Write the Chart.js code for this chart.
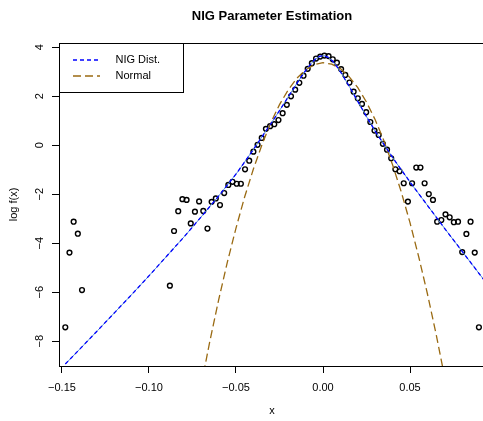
<!DOCTYPE html>
<html>
<head>
<meta charset="utf-8">
<script src="https://cdn.jsdelivr.net/npm/chart.js@4.4.1/dist/chart.umd.min.js"></script>
<style>
html, body { margin: 0; padding: 0; overflow: hidden; background: #fff; }
canvas { display: block; }
</style>
</head>
<body>
<canvas id="nigChart" width="500" height="421"></canvas>
<script>
// log of the empirical density, one value per non-empty histogram bin
const binX = [-0.1481, -0.1457, -0.1433, -0.1409, -0.1385,
    -0.0880, -0.0856, -0.0832, -0.0808, -0.0784, -0.0760, -0.0736, -0.0712, -0.0688, -0.0664,
    -0.0640, -0.0616, -0.0592, -0.0568, -0.0544, -0.0520, -0.0496, -0.0472, -0.0448, -0.0424,
    -0.0400, -0.0376, -0.0352, -0.0328, -0.0304, -0.0280, -0.0256, -0.0232, -0.0208, -0.0184,
    -0.0160, -0.0136, -0.0112, -0.0088, -0.0064, -0.0040, -0.0016, 0.0008, 0.0032, 0.0056,
    0.0080, 0.0104, 0.0128, 0.0152, 0.0176, 0.0200, 0.0224, 0.0248, 0.0272, 0.0296,
    0.0320, 0.0344, 0.0368, 0.0392, 0.0416, 0.0440, 0.0464, 0.0488, 0.0512, 0.0536,
    0.0560, 0.0584, 0.0608, 0.0632, 0.0656, 0.0680, 0.0704, 0.0728, 0.0752, 0.0776,
    0.0800, 0.0824, 0.0848, 0.0872, 0.0896];
const logDens = [-7.43, -4.38, -3.12, -3.61, -5.91,
    -5.73, -3.50, -2.69, -2.20, -2.23, -3.19, -2.71, -2.29, -2.68, -3.40,
    -2.31, -2.17, -2.44, -1.95, -1.62, -1.49, -1.57, -1.57, -0.98, -0.63,
    -0.26, 0.02, 0.30, 0.67, 0.78, 0.86, 1.03, 1.31, 1.65, 2.00,
    2.27, 2.55, 2.84, 3.12, 3.35, 3.54, 3.62, 3.66, 3.64, 3.51,
    3.37, 3.11, 2.87, 2.56, 2.19, 1.92, 1.69, 1.35, 0.95, 0.60,
    0.42, 0.06, -0.18, -0.53, -0.98, -1.06, -1.55, -2.30, -1.55, -0.91,
    -0.91, -1.55, -1.99, -2.23, -3.12, -3.05, -2.82, -2.94, -3.14, -3.12,
    -4.36, -3.62, -3.12, -4.38, -7.43];

// fitted NIG log density
const nigX = [-0.1481, -0.1395, -0.1295, -0.1195, -0.1095, -0.0995, -0.0895, -0.0795, -0.0695,
    -0.0595, -0.0495, -0.0395, -0.0295, -0.0245, -0.0195, -0.0145, -0.0095, -0.0070, -0.0045,
    -0.0020, 0.0005, 0.0030, 0.0055, 0.0080, 0.0105, 0.0155, 0.0205, 0.0255, 0.0305,
    0.0405, 0.0505, 0.0605, 0.0705, 0.0805, 0.0905, 0.0955];
const nigY = [-8.93, -8.30, -7.56, -6.81, -6.06, -5.29, -4.50, -3.71, -2.88,
    -2.03, -1.13, -0.12, 0.93, 1.47, 2.03, 2.58, 3.10, 3.32, 3.51,
    3.63, 3.66, 3.59, 3.44, 3.21, 2.95, 2.35, 1.73, 1.11, 0.52,
    -0.55, -1.55, -2.50, -3.45, -4.38, -5.31, -5.77];

// normal log density with the sample mean and sd
const normX = [-0.070, -0.065, -0.060, -0.055, -0.050, -0.045, -0.040, -0.035, -0.030, -0.025,
    -0.020, -0.015, -0.010, -0.005, 0.000, 0.005, 0.010, 0.015, 0.020, 0.025,
    0.030, 0.035, 0.040, 0.045, 0.050, 0.055, 0.060, 0.065, 0.070];
const normY = [-9.79, -7.99, -6.32, -4.78, -3.38, -2.10, -0.97, 0.04, 0.92, 1.66,
    2.26, 2.74, 3.08, 3.29, 3.37, 3.31, 3.13, 2.80, 2.35, 1.76,
    1.04, 0.19, -0.80, -1.91, -3.16, -4.55, -6.06, -7.71, -9.50];

const xTicks = [-0.15, -0.10, -0.05, 0.00, 0.05];
const yTicks = [-8, -6, -4, -2, 0, 2, 4];

const FONT = "'Liberation Sans', Arial, Helvetica, sans-serif";
const minus = s => s.replace('-', '\u2212');

function pts(xs, ys) {
    return xs.map((x, i) => ({x: x, y: ys[i]}));
}

// R style frame, rotated y labels, title and legend box
const rFrame = {
    id: 'rFrame',
    afterDraw(chart) {
        const ctx = chart.ctx;
        const a = chart.chartArea;
        const y = chart.scales.y;
        ctx.save();
        ctx.strokeStyle = '#000';
        ctx.lineWidth = 1;
        ctx.setLineDash([]);
        ctx.strokeRect(a.left + 0.5, a.top + 0.5, a.right - a.left, a.bottom - a.top);

        ctx.fillStyle = '#000';
        ctx.font = '11px ' + FONT;
        ctx.textAlign = 'center';
        ctx.textBaseline = 'middle';
        yTicks.forEach(v => {
            ctx.save();
            ctx.translate(40, y.getPixelForValue(v));
            ctx.rotate(-Math.PI / 2);
            ctx.fillText(minus(String(v)), 0, 0);
            ctx.restore();
        });

        ctx.font = 'bold 13px ' + FONT;
        ctx.fillText('NIG Parameter Estimation', (a.left + a.right) / 2, 16);

        // legend
        ctx.fillStyle = '#fff';
        ctx.fillRect(a.left + 0.5, a.top + 0.5, 124, 49);
        ctx.strokeRect(a.left + 0.5, a.top + 0.5, 124, 49);
        ctx.font = '11px ' + FONT;
        ctx.textAlign = 'left';
        const items = chart.data.datasets.filter(d => d.legend);
        items.forEach((d, i) => {
            const ly = 60 + i * 16;
            ctx.strokeStyle = d.borderColor;
            ctx.lineWidth = d.borderWidth;
            ctx.setLineDash(d.borderDash);
            ctx.beginPath();
            ctx.moveTo(73, ly);
            ctx.lineTo(100, ly);
            ctx.stroke();
            ctx.setLineDash([]);
            ctx.fillStyle = '#000';
            ctx.fillText(d.label, 115.5, ly);
        });
        ctx.restore();
    }
};

new Chart(document.getElementById('nigChart'), {
    type: 'scatter',
    data: {
        datasets: [
            {
                label: 'NIG Dist.',
                legend: true,
                data: pts(nigX, nigY),
                showLine: true,
                borderColor: '#0000ff',
                borderWidth: 1.3,
                borderDash: [4, 3],
                pointRadius: 0
            },
            {
                label: 'Normal',
                legend: true,
                data: pts(normX, normY),
                showLine: true,
                borderColor: '#9a6a12',
                borderWidth: 1.3,
                borderDash: [8, 4],
                pointRadius: 0
            },
            {
                label: 'nig solid',
                data: pts(nigX, nigY),
                showLine: true,
                borderColor: '#5b93d6',
                borderWidth: 1,
                pointRadius: 0
            },
            {
                label: 'log density',
                data: pts(binX, logDens),
                pointRadius: 2.4,
                pointBorderWidth: 1.4,
                pointBorderColor: '#000',
                pointBackgroundColor: 'rgba(0,0,0,0)'
            }
        ]
    },
    options: {
        responsive: false,
        animation: false,
        layout: {padding: {left: 0, right: 15, top: 43, bottom: 0}},
        plugins: {
            legend: {display: false},
            title: {display: false},
            tooltip: {enabled: false}
        },
        scales: {
            x: {
                type: 'linear',
                min: -0.15172,
                max: 0.0931,
                afterBuildTicks: s => { s.ticks = xTicks.map(v => ({value: v})); },
                afterFit: s => { s.height = 55; },
                grid: {drawOnChartArea: false, drawTicks: true, tickLength: 7, color: '#000'},
                border: {display: false},
                ticks: {
                    autoSkip: false, maxRotation: 0, minRotation: 0, padding: 8,
                    color: '#000', font: {family: FONT, size: 11},
                    callback: v => minus(Number(v).toFixed(2))
                },
                title: {display: true, text: 'x', color: '#000',
                    font: {family: FONT, size: 11}, padding: {top: 0, bottom: 3.4}}
            },
            y: {
                type: 'linear',
                min: -9.01,
                max: 4.175,
                afterBuildTicks: s => { s.ticks = yTicks.map(v => ({value: v})); },
                afterFit: s => { s.width = 59; },
                grid: {drawOnChartArea: false, drawTicks: true, tickLength: 7, color: '#000'},
                border: {display: false},
                ticks: {display: false},
                title: {display: true, text: 'log f(x)', color: '#000',
                    font: {family: FONT, size: 11}, padding: {top: 7.7, bottom: 0}}
            }
        }
    },
    plugins: [rFrame]
});
</script>
</body>
</html>
